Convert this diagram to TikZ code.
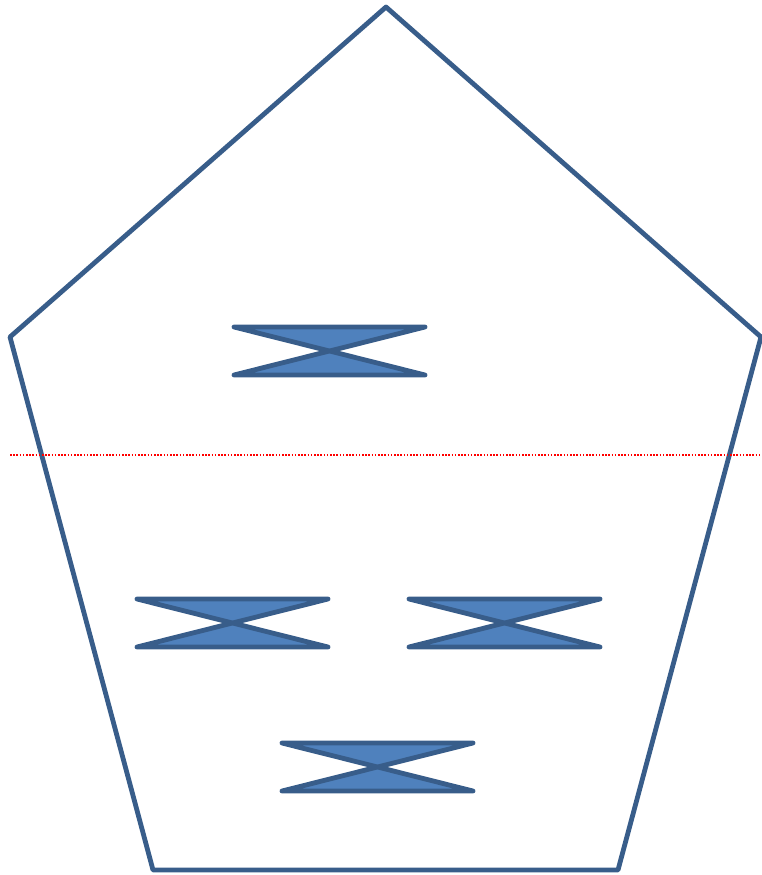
\documentclass[tikz,border=0pt]{standalone}
\usepackage{tikz}
\usetikzlibrary{calc}

\definecolor{tieblue}{HTML}{4F81BD}
\definecolor{tieedge}{HTML}{385D8A}

\begin{document}
\begin{tikzpicture}[
  x=1pt, y=-1pt,
  outline/.style={draw=tieedge, line width=4.8pt, line join=round},
  tie/.style={draw=tieedge, fill=tieblue, line width=4.8pt, line join=round, line cap=round},
  cutline/.style={draw=red, line width=1.6pt, dash pattern=on 1.6pt off 1.6pt}
]
\useasboundingbox (0,0) rectangle (762,875);

\coordinate (top) at (386,7);
\coordinate (left) at (10,337);
\coordinate (right) at (761,337);
\coordinate (botL) at (153,870);
\coordinate (botR) at (618,870);

\draw[outline] (top) -- (right) -- (botR) -- (botL) -- (left) -- cycle;

\coordinate (cutA) at (10,455);
\coordinate (cutB) at (762,455);
\draw[cutline] (cutA) -- (cutB);

% bow ties, centre given
\foreach \cx/\cy/\nm in {330/351/t1, 233/623/t2, 505/623/t3, 378/767/t4}{
  \coordinate (\nm) at (\cx,\cy);
  \draw[tie] ($(\nm)+(-96,-24)$) -- ($(\nm)+(95,-24)$) -- ($(\nm)+(-96,24)$) -- ($(\nm)+(95,24)$) -- cycle;
}

\end{tikzpicture}
\end{document}
